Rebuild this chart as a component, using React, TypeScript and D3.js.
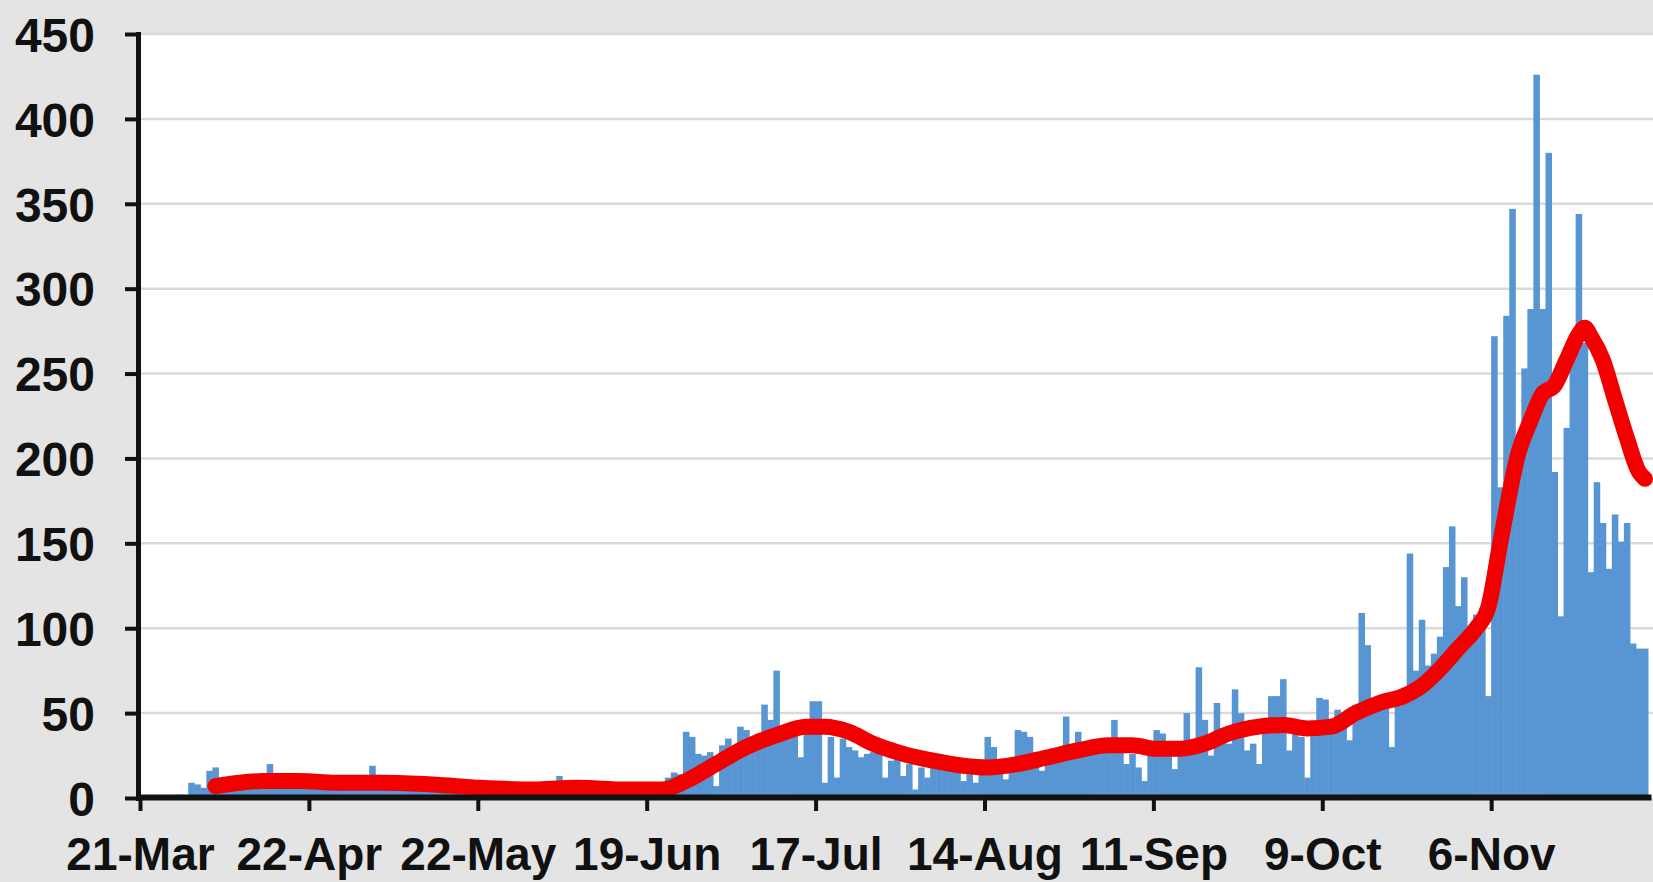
import { useEffect, useRef } from 'react';
import * as d3 from 'd3';

const W = 1653;
const H = 882;

// daily cases, one value per day from 21-Mar
const dailyCounts: number[] = [
  0, 0, 0, 0, 1, 0, 2, 1, 9, 8,
  6, 16, 18, 11, 8, 13, 10, 7, 9, 11,
  12, 20, 11, 9, 10, 8, 11, 9, 12, 10,
  8, 9, 11, 7, 10, 9, 8, 10, 19, 8,
  9, 7, 10, 8, 6, 9, 7, 8, 6, 9,
  7, 5, 6, 8, 5, 6, 4, 7, 5, 6,
  4, 5, 6, 4, 7, 5, 6, 4, 7, 13,
  5, 6, 4, 7, 5, 6, 4, 5, 6, 4,
  5, 6, 4, 5, 8, 6, 9, 12, 15, 14,
  39, 36, 26, 25, 27, 7, 31, 35, 30, 42,
  40, 33, 38, 55, 46, 75, 38, 40, 38, 24,
  38, 57, 57, 9, 36, 12, 35, 30, 28, 24,
  26, 27, 30, 12, 22, 24, 13, 20, 5, 18,
  12, 20, 18, 22, 18, 16, 10, 14, 9, 18,
  36, 30, 20, 11, 20, 40, 39, 36, 22, 16,
  20, 24, 25, 48, 28, 39, 28, 30, 28, 30,
  32, 46, 32, 20, 26, 18, 10, 30, 40, 38,
  30, 17, 30, 50, 33, 77, 46, 25, 56, 36,
  32, 64, 50, 28, 32, 20, 40, 60, 60, 70,
  28, 40, 36, 12, 40, 59, 58, 42, 52, 45,
  34, 55, 109, 90, 56, 55, 58, 30, 60, 65,
  144, 75, 105, 78, 85, 95, 136, 160, 113, 130,
  100, 108, 112, 60, 272, 183, 284, 347, 203, 253,
  288, 426, 288, 380, 192, 107, 218, 268, 344, 268,
  133, 186, 162, 135, 167, 151, 162, 91, 88, 88,
];

// red moving-average line (day index -> value)
const trendDay: number[] = [
  12, 16, 20, 26, 32, 40, 48, 56, 64, 72,
  80, 86, 90, 95, 100, 105, 110, 113, 117, 121,
  126, 131, 136, 140, 145, 150, 155, 160, 164, 168,
  172, 176, 180, 185, 189, 193, 197, 201, 205, 209,
  212, 215, 218, 221, 223, 225, 228, 230, 232, 234,
  236, 238, 239, 240, 242, 244, 246, 248, 249,
];
const trendValue: number[] = [
  7, 9, 10, 10, 9, 9, 8, 6, 5, 6,
  5, 5, 10, 20, 30, 37, 42, 42, 39, 32,
  26, 22, 19, 18, 20, 24, 28, 31, 31, 29,
  29, 32, 38, 42, 43, 41, 42, 50, 56, 60,
  66, 76, 88, 100, 112, 150, 203, 222, 238, 243,
  258, 273, 277, 272, 258, 235, 212, 192, 188,
];

const dateLabels: string[] = ['21-Mar', '22-Apr', '22-May', '19-Jun', '17-Jul', '14-Aug', '11-Sep', '9-Oct', '6-Nov'];
const labelEvery = 28;
const yTicks: number[] = [0, 50, 100, 150, 200, 250, 300, 350, 400, 450];

export default function App() {
  const ref = useRef<SVGSVGElement | null>(null);

  useEffect(() => {
    const svg = d3.select(ref.current);
    svg.selectAll('*').remove();

    const left = 140;
    const right = 1648;
    const top = 34;
    const bottom = 798;
    const font = '"Liberation Sans", Arial, sans-serif';

    const n = dailyCounts.length;
    const x = d3.scaleBand<number>().domain(d3.range(n)).range([left, right]).padding(0);
    const xEdge = d3.scaleLinear().domain([0, n]).range([left, right]);
    const y = d3.scaleLinear().domain([0, 450]).range([bottom, top]);

    // backgrounds
    svg.append('rect').attr('width', W).attr('height', H).attr('fill', '#e4e4e4');
    svg.append('rect')
      .attr('x', left).attr('y', top - 1)
      .attr('width', W - left).attr('height', bottom - top + 1)
      .attr('fill', '#ffffff');

    // gridlines
    svg.append('g').selectAll('line')
      .data(yTicks.filter(v => v > 0))
      .join('line')
      .attr('x1', left).attr('x2', W)
      .attr('y1', d => y(d)).attr('y2', d => y(d))
      .attr('stroke', '#dadada').attr('stroke-width', 2.5);

    // bars
    svg.append('g').selectAll('rect')
      .data(dailyCounts)
      .join('rect')
      .attr('x', (_, i) => x(i) as number)
      .attr('width', x.bandwidth() + 0.5)
      .attr('y', d => y(d))
      .attr('height', d => bottom - y(d))
      .attr('fill', '#5795d3');

    // trend line
    const pts: [number, number][] = trendDay.map((d, i) => [(x(d) as number) + x.bandwidth() / 2, y(trendValue[i])]);
    const line = d3.line().curve(d3.curveMonotoneX);
    svg.append('path')
      .attr('d', line(pts))
      .attr('fill', 'none')
      .attr('stroke', '#f20000')
      .attr('stroke-width', 16)
      .attr('stroke-linecap', 'round')
      .attr('stroke-linejoin', 'round');

    // y axis
    const yAxis = svg.append('g')
      .attr('transform', `translate(${left - 2},0)`)
      .call(d3.axisLeft(y).tickValues(yTicks).tickSize(13).tickSizeOuter(0).tickPadding(30));
    yAxis.select('.domain').attr('stroke', '#111').attr('stroke-width', 5).attr('stroke-linecap', 'square');
    yAxis.selectAll('.tick line').attr('stroke', '#111').attr('stroke-width', 4);
    yAxis.selectAll('.tick text')
      .attr('dy', '0.36em')
      .attr('fill', '#111')
      .style('font-family', font).style('font-size', '48px').style('font-weight', 'bold');

    // x axis
    const labelIdx = dateLabels.map((_, i) => i * labelEvery);
    const xAxis = svg.append('g')
      .attr('transform', `translate(0,${bottom - 1})`)
      .call(d3.axisBottom(xEdge).tickValues(labelIdx)
        .tickFormat((_, i) => dateLabels[i])
        .tickSize(14).tickSizeOuter(0).tickPadding(26));
    xAxis.select('.domain').attr('stroke', '#111').attr('stroke-width', 6).attr('stroke-linecap', 'square');
    xAxis.selectAll('.tick line').attr('stroke', '#111').attr('stroke-width', 4);
    xAxis.selectAll('.tick text')
      .attr('fill', '#111')
      .style('font-family', font).style('font-size', '46px').style('font-weight', 'bold');
  }, []);

  return (
    <svg
      ref={ref}
      width={W}
      height={H}
      style={{ position: 'absolute', left: 0, top: 0, display: 'block' }}
    />
  );
}
